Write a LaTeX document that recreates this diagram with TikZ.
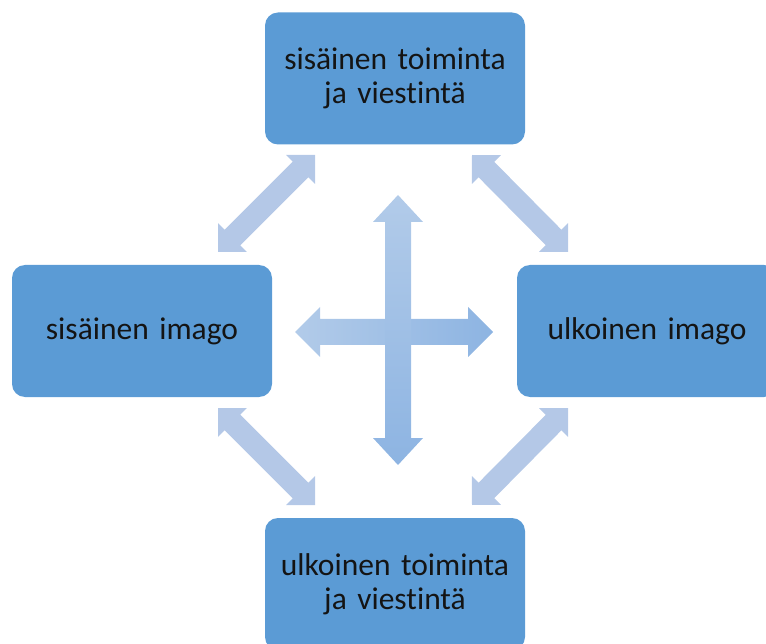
\documentclass[tikz,border=0pt]{standalone}
\usepackage{fontspec}
\setmainfont{Carlito}[Ligatures=NoCommon]
\usetikzlibrary{calc}

\definecolor{boxblue}{HTML}{5B9BD5}
\definecolor{linkblue}{HTML}{B4C8E7}
\definecolor{crosslight}{HTML}{B2CBE9}
\definecolor{crossdark}{HTML}{8DB4E2}
\definecolor{labeltext}{HTML}{141414}

\tikzset{
  topic/.style={rectangle, rounded corners=13pt, fill=boxblue,
    minimum width=260pt, minimum height=132pt, inner sep=0pt,
    text width=250pt, align=center, text=labeltext,
    font=\fontsize{31.5}{34}\selectfont},
  link/.style={fill=linkblue}
}

% two-headed block arrow from #2 to #3:
% #4 head length, #5 head half width, #6 shaft half width
\newcommand\twoheaded[6]{%
  \fill[#1] (#2)
    -- ($ ($(#2)!#4!(#3)$)!#5!90:(#3) $)
    -- ($ ($(#2)!#4!(#3)$)!#6!90:(#3) $)
    -- ($ ($(#3)!#4!(#2)$)!#6!-90:(#2) $)
    -- ($ ($(#3)!#4!(#2)$)!#5!-90:(#2) $)
    -- (#3)
    -- ($ ($(#3)!#4!(#2)$)!#5!90:(#2) $)
    -- ($ ($(#3)!#4!(#2)$)!#6!90:(#2) $)
    -- ($ ($(#2)!#4!(#3)$)!#6!-90:(#3) $)
    -- ($ ($(#2)!#4!(#3)$)!#5!-90:(#3) $)
    -- cycle;}

\begin{document}
\begin{tikzpicture}[x=1pt,y=-1pt]
  \useasboundingbox (0,0) rectangle (766,644);
  \clip (0,0) rectangle (766,644);

  % the four topics
  \node[topic] (inner)  at (395,78.5) {sisäinen toiminta\\ja viestintä};
  \node[topic] (simage) at (142,331)  {sisäinen imago};
  \node[topic] (uimage) at (647,331)  {ulkoinen imago};
  \node[topic] (outer)  at (395,584)  {ulkoinen toiminta\\ja viestintä};

  % end points of the diagonal links
  \coordinate (tlA) at (218,252); \coordinate (tlB) at (315,155);
  \coordinate (trA) at (472,155); \coordinate (trB) at (568,252);
  \coordinate (blA) at (218,408); \coordinate (blB) at (315,505);
  \coordinate (brA) at (568,408); \coordinate (brB) at (472,505);

  \twoheaded{link}{tlA}{tlB}{20.5pt}{20.5pt}{11pt}
  \twoheaded{link}{trA}{trB}{20.5pt}{20.5pt}{11pt}
  \twoheaded{link}{blA}{blB}{20.5pt}{20.5pt}{11pt}
  \twoheaded{link}{brA}{brB}{20.5pt}{20.5pt}{11pt}

  % central cross
  \shade[left color=crosslight, right color=crossdark]
    (295,332) -- (320,307) -- (320,319) -- (468,319) -- (468,307)
    -- (493,332) -- (468,357) -- (468,345) -- (320,345) -- (320,357) -- cycle;
  \shade[top color=crosslight, bottom color=crossdark]
    (398,195) -- (423,222) -- (411,222) -- (411,438) -- (423,438)
    -- (398,465) -- (373,438) -- (385,438) -- (385,222) -- (373,222) -- cycle;
\end{tikzpicture}
\end{document}
